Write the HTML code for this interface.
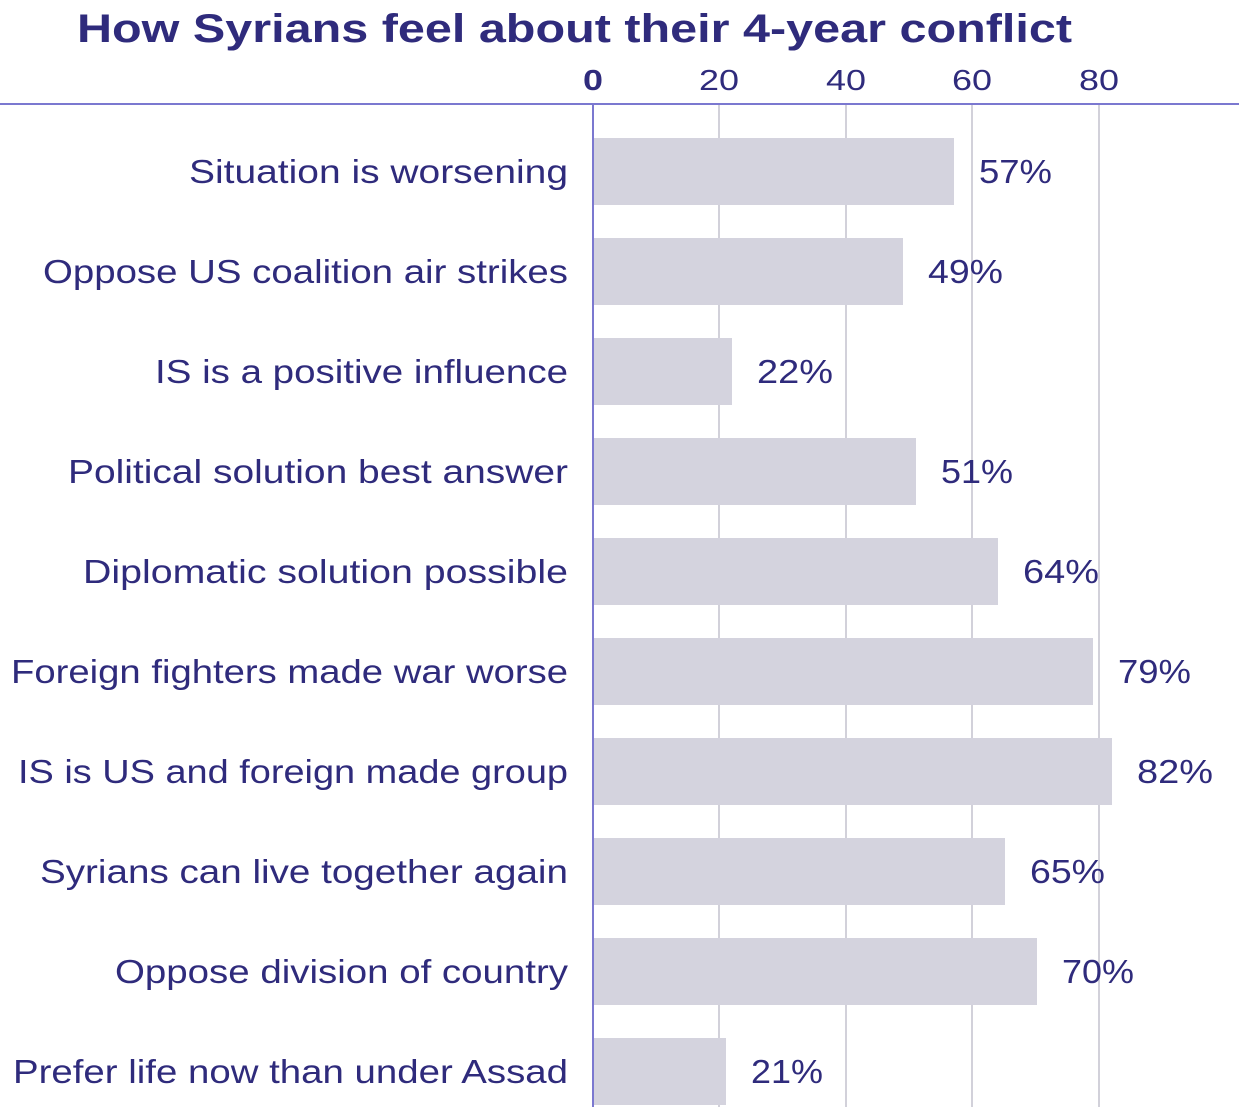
<!DOCTYPE html>
<html><head><style>
html,body{margin:0;padding:0;background:#fff;}
svg{display:block;}
text{font-family:"Liberation Sans",sans-serif;fill:#2f2b7c;}
</style></head><body>
<svg width="1239" height="1107" viewBox="0 0 1239 1107">
<text x="77" y="42" font-size="40" font-weight="bold" textLength="995" lengthAdjust="spacingAndGlyphs" fill="#2a2676">How Syrians feel about their 4-year conflict</text>
<g font-size="29">
<text x="583" y="90" font-weight="bold" textLength="20" lengthAdjust="spacingAndGlyphs">0</text>
<text x="699" y="90" textLength="40" lengthAdjust="spacingAndGlyphs">20</text>
<text x="826" y="90" textLength="40" lengthAdjust="spacingAndGlyphs">40</text>
<text x="952" y="90" textLength="40" lengthAdjust="spacingAndGlyphs">60</text>
<text x="1079" y="90" textLength="40" lengthAdjust="spacingAndGlyphs">80</text>
</g>
<g stroke="#d2d1da" stroke-width="2">
<line x1="719" y1="105" x2="719" y2="1107"/>
<line x1="846" y1="105" x2="846" y2="1107"/>
<line x1="972" y1="105" x2="972" y2="1107"/>
<line x1="1099" y1="105" x2="1099" y2="1107"/>
</g>
<g fill="#d4d3de">
<rect x="594" y="138" width="360" height="67"/>
<rect x="594" y="238" width="309" height="67"/>
<rect x="594" y="338" width="138" height="67"/>
<rect x="594" y="438" width="322" height="67"/>
<rect x="594" y="538" width="404" height="67"/>
<rect x="594" y="638" width="499" height="67"/>
<rect x="594" y="738" width="518" height="67"/>
<rect x="594" y="838" width="411" height="67"/>
<rect x="594" y="938" width="443" height="67"/>
<rect x="594" y="1038" width="132" height="67"/>
</g>
<line x1="0" y1="104" x2="1239" y2="104" stroke="#7b78d0" stroke-width="2"/>
<line x1="593" y1="104" x2="593" y2="1107" stroke="#7b78d0" stroke-width="2"/>
<g font-size="33" lengthAdjust="spacingAndGlyphs">
<text x="189" y="183" textLength="379" lengthAdjust="spacingAndGlyphs">Situation is worsening</text>
<text x="43" y="283" textLength="525" lengthAdjust="spacingAndGlyphs">Oppose US coalition air strikes</text>
<text x="155" y="383" textLength="413" lengthAdjust="spacingAndGlyphs">IS is a positive influence</text>
<text x="68" y="483" textLength="500" lengthAdjust="spacingAndGlyphs">Political solution best answer</text>
<text x="83" y="583" textLength="485" lengthAdjust="spacingAndGlyphs">Diplomatic solution possible</text>
<text x="11" y="683" textLength="557" lengthAdjust="spacingAndGlyphs">Foreign fighters made war worse</text>
<text x="18" y="783" textLength="550" lengthAdjust="spacingAndGlyphs">IS is US and foreign made group</text>
<text x="40" y="883" textLength="528" lengthAdjust="spacingAndGlyphs">Syrians can live together again</text>
<text x="115" y="983" textLength="453" lengthAdjust="spacingAndGlyphs">Oppose division of country</text>
<text x="13" y="1083" textLength="555" lengthAdjust="spacingAndGlyphs">Prefer life now than under Assad</text>
</g>
<g font-size="33">
<text x="979" y="183" textLength="73" lengthAdjust="spacingAndGlyphs">57%</text>
<text x="928" y="283" textLength="75" lengthAdjust="spacingAndGlyphs">49%</text>
<text x="757" y="383" textLength="76" lengthAdjust="spacingAndGlyphs">22%</text>
<text x="941" y="483" textLength="72" lengthAdjust="spacingAndGlyphs">51%</text>
<text x="1023" y="583" textLength="76" lengthAdjust="spacingAndGlyphs">64%</text>
<text x="1118" y="683" textLength="73" lengthAdjust="spacingAndGlyphs">79%</text>
<text x="1137" y="783" textLength="76" lengthAdjust="spacingAndGlyphs">82%</text>
<text x="1030" y="883" textLength="75" lengthAdjust="spacingAndGlyphs">65%</text>
<text x="1062" y="983" textLength="72" lengthAdjust="spacingAndGlyphs">70%</text>
<text x="751" y="1083" textLength="72" lengthAdjust="spacingAndGlyphs">21%</text>
</g>
</svg>
</body></html>
